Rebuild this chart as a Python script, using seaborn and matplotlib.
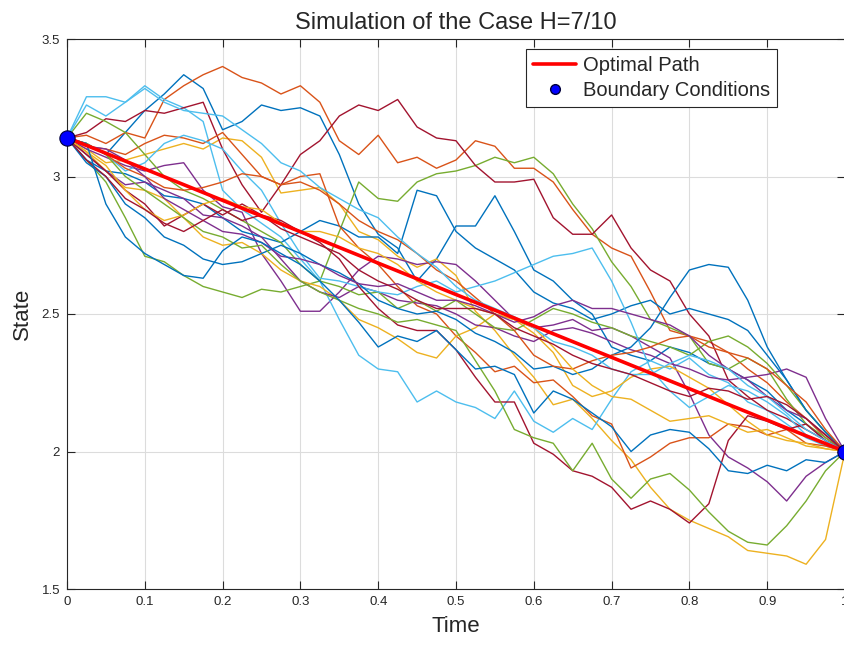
import numpy as np
import pandas as pd
import matplotlib
matplotlib.use("Agg")
import matplotlib.pyplot as plt
from matplotlib.ticker import FormatStrFormatter
from matplotlib.lines import Line2D
import seaborn as sns

# time grid the paths were read on (step 0.025)
t = [0, 0.025, 0.05, 0.075, 0.1, 0.125, 0.15, 0.175, 0.2, 0.225,
     0.25, 0.275, 0.3, 0.325, 0.35, 0.375, 0.4, 0.425, 0.45, 0.475,
     0.5, 0.525, 0.55, 0.575, 0.6, 0.625, 0.65, 0.675, 0.7, 0.725,
     0.75, 0.775, 0.8, 0.825, 0.85, 0.875, 0.9, 0.925, 0.95, 0.975, 1.0]

# simulated paths (MATLAB colour order)
blue_1 = [3.14, 3.12, 3.08, 3.16, 3.24, 3.30, 3.37, 3.32, 3.17, 3.20,
          3.26, 3.24, 3.25, 3.22, 3.08, 2.90, 2.79, 2.74, 2.62, 2.70,
          2.82, 2.82, 2.93, 2.80, 2.66, 2.62, 2.55, 2.50, 2.38, 2.35,
          2.33, 2.38, 2.36, 2.32, 2.30, 2.26, 2.22, 2.15, 2.10, 2.04, 2.00]
orange_1 = [3.14, 3.15, 3.12, 3.16, 3.14, 3.28, 3.33, 3.37, 3.40, 3.36,
            3.34, 3.30, 3.33, 3.27, 3.13, 3.08, 3.15, 3.05, 3.07, 3.03,
            3.06, 3.13, 3.11, 3.03, 3.03, 2.98, 2.88, 2.79, 2.74, 2.71,
            2.58, 2.44, 2.42, 2.40, 2.36, 2.30, 2.25, 2.18, 2.12, 2.05, 2.00]
yellow_1 = [3.14, 3.10, 3.05, 3.06, 3.08, 3.10, 3.12, 3.10, 3.14, 3.13,
            3.07, 2.94, 2.95, 2.96, 2.90, 2.80, 2.77, 2.71, 2.67, 2.70,
            2.64, 2.51, 2.44, 2.35, 2.27, 2.17, 2.19, 2.12, 2.04, 1.97,
            1.87, 1.79, 1.75, 1.72, 1.69, 1.64, 1.63, 1.62, 1.59, 1.68, 2.00]
purple_1 = [3.14, 3.10, 3.07, 3.04, 3.02, 3.04, 3.05, 2.95, 2.89, 2.87,
            2.72, 2.62, 2.51, 2.51, 2.58, 2.66, 2.71, 2.70, 2.68, 2.69,
            2.68, 2.62, 2.55, 2.48, 2.45, 2.46, 2.48, 2.44, 2.45, 2.42,
            2.38, 2.34, 2.21, 2.06, 1.98, 1.94, 1.89, 1.82, 1.91, 1.96, 2.00]
green_1 = [3.14, 3.06, 2.98, 2.85, 2.71, 2.69, 2.64, 2.60, 2.58, 2.56,
           2.59, 2.58, 2.60, 2.62, 2.80, 2.98, 2.92, 2.91, 2.98, 3.01,
           3.02, 3.04, 3.07, 3.05, 3.07, 3.01, 2.90, 2.81, 2.69, 2.60,
           2.48, 2.45, 2.42, 2.32, 2.30, 2.34, 2.30, 2.19, 2.10, 2.05, 2.00]
lightblue_1 = [3.14, 3.29, 3.29, 3.27, 3.33, 3.28, 3.25, 3.20, 2.95, 2.88,
               2.83, 2.78, 2.70, 2.62, 2.48, 2.35, 2.30, 2.29, 2.18, 2.22,
               2.18, 2.16, 2.12, 2.22, 2.11, 2.07, 2.12, 2.08, 2.19, 2.29,
               2.33, 2.30, 2.34, 2.28, 2.25, 2.18, 2.15, 2.10, 2.05, 2.02, 2.00]
darkred_1 = [3.14, 3.16, 3.21, 3.20, 3.24, 3.23, 3.25, 3.27, 3.10, 2.97,
             2.87, 2.97, 3.08, 3.13, 3.22, 3.26, 3.24, 3.28, 3.18, 3.14,
             3.13, 3.04, 2.98, 2.98, 2.99, 2.85, 2.79, 2.79, 2.86, 2.74,
             2.66, 2.62, 2.50, 2.42, 2.26, 2.20, 2.15, 2.12, 2.08, 2.04, 2.00]
blue_2 = [3.14, 3.06, 3.02, 3.01, 2.98, 2.93, 2.92, 2.90, 2.85, 2.80,
          2.78, 2.76, 2.80, 2.84, 2.82, 2.78, 2.78, 2.72, 2.95, 2.93,
          2.80, 2.74, 2.70, 2.66, 2.58, 2.54, 2.52, 2.48, 2.50, 2.53,
          2.55, 2.50, 2.52, 2.50, 2.48, 2.44, 2.35, 2.26, 2.15, 2.07, 2.00]
orange_2 = [3.14, 3.11, 3.10, 3.08, 3.12, 3.15, 3.14, 3.12, 3.16, 3.08,
            3.00, 2.97, 3.00, 3.01, 2.82, 2.74, 2.68, 2.60, 2.53, 2.50,
            2.42, 2.36, 2.29, 2.31, 2.25, 2.26, 2.20, 2.13, 2.10, 1.94,
            1.98, 2.03, 2.05, 2.05, 2.10, 2.09, 2.06, 2.08, 2.03, 2.02, 2.00]
yellow_2 = [3.14, 3.09, 3.02, 2.96, 2.95, 2.92, 2.85, 2.78, 2.75, 2.76,
            2.72, 2.66, 2.62, 2.60, 2.55, 2.48, 2.45, 2.41, 2.36, 2.34,
            2.42, 2.45, 2.50, 2.48, 2.43, 2.36, 2.24, 2.20, 2.22, 2.27,
            2.30, 2.31, 2.27, 2.23, 2.17, 2.11, 2.06, 2.04, 2.03, 2.01, 2.00]
purple_2 = [3.14, 3.08, 3.02, 2.97, 2.98, 2.95, 2.92, 2.86, 2.85, 2.82,
            2.78, 2.70, 2.62, 2.58, 2.56, 2.60, 2.58, 2.55, 2.54, 2.53,
            2.50, 2.46, 2.45, 2.42, 2.40, 2.44, 2.45, 2.43, 2.40, 2.37,
            2.35, 2.32, 2.30, 2.27, 2.26, 2.27, 2.28, 2.30, 2.27, 2.12, 2.00]
green_2 = [3.14, 3.23, 3.20, 3.16, 3.08, 3.00, 2.95, 2.92, 2.88, 2.84,
           2.80, 2.76, 2.68, 2.62, 2.60, 2.57, 2.58, 2.52, 2.55, 2.51,
           2.55, 2.50, 2.45, 2.44, 2.48, 2.52, 2.50, 2.47, 2.45, 2.42,
           2.40, 2.38, 2.35, 2.40, 2.42, 2.38, 2.32, 2.24, 2.15, 2.07, 2.00]
lightblue_2 = [3.14, 3.12, 3.08, 3.02, 3.05, 3.12, 3.15, 3.13, 3.10, 3.02,
               2.95, 2.83, 2.72, 2.63, 2.62, 2.60, 2.58, 2.57, 2.60, 2.62,
               2.58, 2.60, 2.62, 2.65, 2.68, 2.71, 2.72, 2.74, 2.62, 2.47,
               2.30, 2.22, 2.16, 2.20, 2.24, 2.22, 2.18, 2.13, 2.06, 2.03, 2.00]
darkred_2 = [3.14, 3.08, 3.02, 2.95, 2.90, 2.82, 2.86, 2.90, 2.86, 2.90,
             2.86, 2.84, 2.80, 2.76, 2.70, 2.60, 2.52, 2.46, 2.44, 2.44,
             2.37, 2.27, 2.18, 2.18, 2.03, 1.99, 1.93, 1.91, 1.87, 1.79,
             1.82, 1.79, 1.74, 1.81, 2.04, 2.13, 2.11, 2.08, 2.10, 2.04, 2.00]
blue_3 = [3.14, 3.05, 3.00, 2.90, 2.85, 2.78, 2.75, 2.70, 2.68, 2.69,
          2.72, 2.75, 2.72, 2.68, 2.65, 2.61, 2.55, 2.52, 2.50, 2.51,
          2.48, 2.43, 2.40, 2.36, 2.30, 2.31, 2.28, 2.30, 2.35, 2.38,
          2.45, 2.56, 2.66, 2.68, 2.67, 2.55, 2.38, 2.26, 2.15, 2.07, 2.00]
orange_3 = [3.14, 3.12, 3.08, 3.03, 3.00, 2.96, 2.95, 2.96, 2.98, 3.01,
            3.00, 2.97, 2.98, 2.95, 2.90, 2.84, 2.80, 2.77, 2.72, 2.66,
            2.62, 2.56, 2.50, 2.44, 2.35, 2.31, 2.30, 2.33, 2.35, 2.36,
            2.38, 2.41, 2.42, 2.38, 2.36, 2.34, 2.30, 2.24, 2.18, 2.08, 2.00]
yellow_3 = [3.14, 3.09, 3.04, 2.95, 2.88, 2.84, 2.86, 2.90, 2.92, 2.89,
            2.88, 2.83, 2.80, 2.80, 2.78, 2.74, 2.72, 2.68, 2.62, 2.58,
            2.55, 2.52, 2.50, 2.48, 2.45, 2.38, 2.30, 2.24, 2.20, 2.19,
            2.15, 2.11, 2.12, 2.13, 2.10, 2.07, 2.08, 2.05, 2.02, 2.01, 2.00]
purple_3 = [3.14, 3.11, 3.10, 3.06, 3.00, 2.92, 2.88, 2.84, 2.80, 2.79,
            2.76, 2.71, 2.70, 2.68, 2.64, 2.61, 2.60, 2.61, 2.58, 2.55,
            2.55, 2.53, 2.50, 2.47, 2.49, 2.53, 2.55, 2.52, 2.52, 2.50,
            2.48, 2.46, 2.42, 2.35, 2.30, 2.26, 2.20, 2.15, 2.12, 2.06, 2.00]
green_3 = [3.14, 3.12, 3.08, 3.00, 2.95, 2.90, 2.85, 2.80, 2.78, 2.74,
           2.75, 2.68, 2.62, 2.58, 2.55, 2.52, 2.50, 2.47, 2.48, 2.46,
           2.44, 2.33, 2.22, 2.08, 2.05, 2.03, 1.93, 2.03, 1.90, 1.83,
           1.90, 1.92, 1.86, 1.78, 1.71, 1.67, 1.66, 1.73, 1.82, 1.93, 2.00]
lightblue_3 = [3.14, 3.26, 3.22, 3.27, 3.32, 3.27, 3.24, 3.23, 3.22, 3.17,
               3.12, 3.05, 3.02, 2.96, 2.92, 2.88, 2.85, 2.78, 2.72, 2.67,
               2.60, 2.55, 2.52, 2.49, 2.45, 2.40, 2.38, 2.35, 2.30, 2.28,
               2.28, 2.32, 2.35, 2.33, 2.30, 2.24, 2.20, 2.14, 2.08, 2.04, 2.00]
darkred_3 = [3.14, 3.06, 3.00, 2.92, 2.88, 2.83, 2.80, 2.84, 2.88, 2.84,
             2.86, 2.81, 2.78, 2.75, 2.72, 2.66, 2.62, 2.59, 2.55, 2.52,
             2.52, 2.52, 2.50, 2.45, 2.42, 2.39, 2.35, 2.32, 2.30, 2.28,
             2.25, 2.22, 2.20, 2.23, 2.22, 2.19, 2.20, 2.17, 2.12, 2.06, 2.00]
blue_4 = [3.14, 3.12, 2.90, 2.78, 2.72, 2.68, 2.64, 2.63, 2.73, 2.78,
          2.76, 2.72, 2.68, 2.62, 2.55, 2.47, 2.38, 2.42, 2.40, 2.44,
          2.37, 2.30, 2.31, 2.28, 2.14, 2.22, 2.19, 2.14, 2.09, 2.00,
          2.06, 2.08, 2.07, 2.01, 1.93, 1.92, 1.95, 1.93, 1.97, 1.96, 2.00]

# optimal path and boundary conditions
optimal_t = [0, 1]
optimal_state = [3.1416, 2.0]
boundary_t = [0, 1]
boundary_state = [3.1416, 2.0]

x_ticks = [0, 0.1, 0.2, 0.3, 0.4, 0.5, 0.6, 0.7, 0.8, 0.9, 1]
y_ticks = [1.5, 2, 2.5, 3, 3.5]

matlab_colors = {
    "blue": "#0072BD", "orange": "#D95319", "yellow": "#EDB120",
    "purple": "#7E2F8E", "green": "#77AC30", "lightblue": "#4DBEEE",
    "darkred": "#A2142F",
}

paths = [
    ("blue_1", blue_1), ("orange_1", orange_1), ("yellow_1", yellow_1),
    ("purple_1", purple_1), ("green_1", green_1), ("lightblue_1", lightblue_1),
    ("darkred_1", darkred_1), ("blue_2", blue_2), ("orange_2", orange_2),
    ("yellow_2", yellow_2), ("purple_2", purple_2), ("green_2", green_2),
    ("lightblue_2", lightblue_2), ("darkred_2", darkred_2), ("blue_3", blue_3),
    ("orange_3", orange_3), ("yellow_3", yellow_3), ("purple_3", purple_3),
    ("green_3", green_3), ("lightblue_3", lightblue_3), ("darkred_3", darkred_3),
    ("blue_4", blue_4),
]

rows = []
for name, vals in paths:
    for ti, yi in zip(t, vals):
        rows.append({"path": name, "Time": ti, "State": yi})
df = pd.DataFrame(rows)
palette = {name: matlab_colors[name.rsplit("_", 1)[0]] for name, _ in paths}

sns.set_style("ticks")
plt.rcParams["font.family"] = ["Liberation Sans", "DejaVu Sans"]

fig = plt.figure(figsize=(8.45, 6.47), dpi=100)
ax = fig.add_axes([67 / 845, 1 - 589 / 647, 778 / 845, 550 / 647])

sns.lineplot(data=df, x="Time", y="State", hue="path", palette=palette,
             estimator=None, sort=False, legend=False, linewidth=1.0, ax=ax)

opt_df = pd.DataFrame({"Time": optimal_t, "State": optimal_state})
sns.lineplot(data=opt_df, x="Time", y="State", color="#FF0000",
             linewidth=2.6, estimator=None, sort=False, ax=ax, zorder=5)
ax.plot(boundary_t, boundary_state, "o", color="#0000FF", markersize=11,
        markeredgecolor="#00003a", markeredgewidth=0.8, zorder=6, clip_on=False)

ax.set_xlim(0, 1)
ax.set_ylim(1.5, 3.5)
ax.set_xticks(x_ticks)
ax.set_yticks(y_ticks)
ax.xaxis.set_major_formatter(FormatStrFormatter("%g"))
ax.yaxis.set_major_formatter(FormatStrFormatter("%g"))
ax.grid(True, color="#dcdcdc", linewidth=0.8)
ax.set_axisbelow(True)
ax.tick_params(direction="in", length=6, width=0.8, top=True, right=True,
               labelsize=9.5, colors="#262626", pad=5)
for s in ax.spines.values():
    s.set_color("#262626")
    s.set_linewidth(0.8)

ax.set_title("Simulation of the Case H=7/10", fontsize=17, pad=7)
ax.set_xlabel("Time", fontsize=16, color="#262626", labelpad=6)
ax.set_ylabel("State", fontsize=16, color="#262626", labelpad=6)

handles = [
    Line2D([], [], color="#FF0000", linewidth=2.6, label="Optimal Path"),
    Line2D([], [], marker="o", linestyle="none", color="#0000FF",
           markeredgecolor="#00003a", markersize=7, label="Boundary Conditions"),
]
leg = ax.legend(handles=handles, loc="upper right",
                bbox_to_anchor=(0.9126, 0.982), borderaxespad=0,
                fontsize=14.5, fancybox=False, framealpha=1,
                edgecolor="#262626", handlelength=2.1, handletextpad=0.35,
                borderpad=0.35, labelspacing=0.3)
leg.get_frame().set_linewidth(0.8)

fig.savefig("out.png", dpi=100)
